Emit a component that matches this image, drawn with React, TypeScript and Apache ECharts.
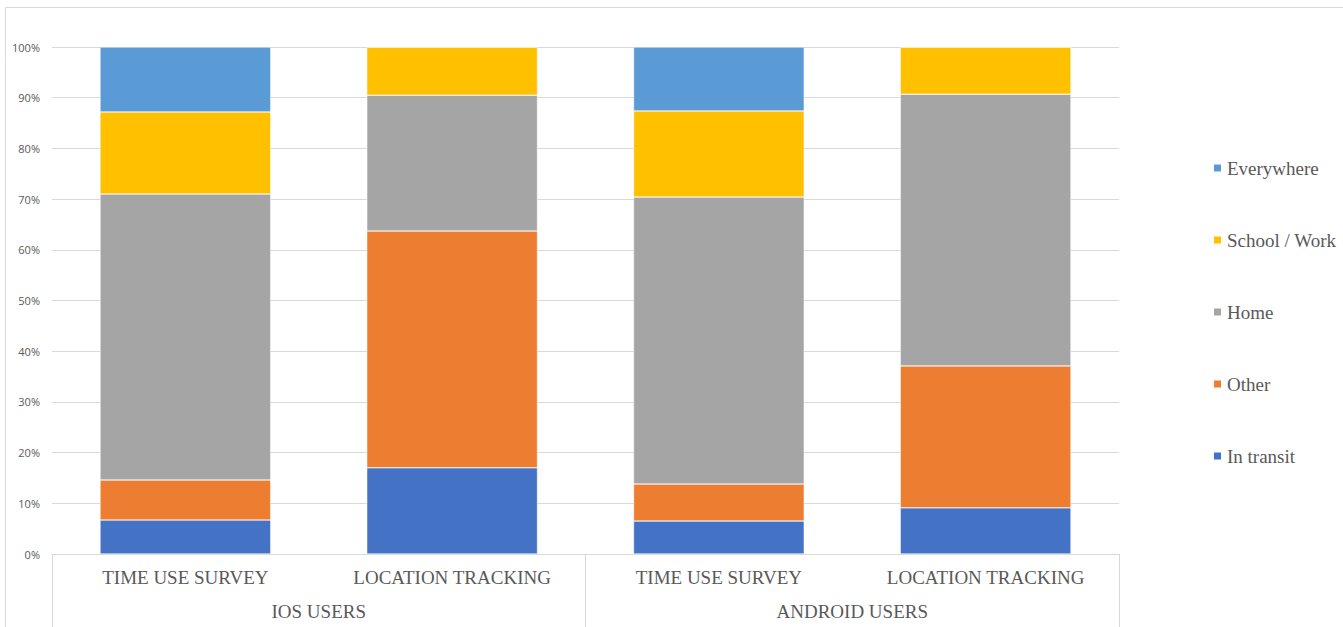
import React, { useEffect, useRef } from "react";
import * as echarts from "echarts";

const categories = ["TIME USE SURVEY", "LOCATION TRACKING", "TIME USE SURVEY", "LOCATION TRACKING"];
const groups = ["IOS USERS", "ANDROID USERS"];
const yTicks = [0, 10, 20, 30, 40, 50, 60, 70, 80, 90, 100];

const inTransit = [6.7, 17.0, 6.5, 9.1];
const other = [7.9, 46.7, 7.3, 28.0];
const home = [56.4, 26.8, 56.6, 53.6];
const schoolWork = [16.2, 9.5, 17.0, 9.3];
const everywhere = [12.8, 0, 12.6, 0];

const seriesDefs = [
  { name: "In transit", data: inTransit, color: "#4472C4" },
  { name: "Other", data: other, color: "#ED7D31" },
  { name: "Home", data: home, color: "#A5A5A5" },
  { name: "School / Work", data: schoolWork, color: "#FFC000" },
  { name: "Everywhere", data: everywhere, color: "#5B9BD5" },
];

const legendOrder = ["Everywhere", "School / Work", "Home", "Other", "In transit"];

export default function App() {
  const ref = useRef<HTMLDivElement>(null);
  useEffect(() => {
    if (!ref.current) return;
    const chart = echarts.init(ref.current, undefined, { renderer: "svg" });
    const serif = "'Liberation Serif', 'DejaVu Serif', serif";
    chart.setOption({
      animation: false,
      backgroundColor: "#ffffff",
      graphic: [
        {
          type: "polyline",
          shape: { points: [[5.5, 640], [5.5, 7.5], [1343, 7.5]] },
          style: { fill: "none", stroke: "#d9d9d9", lineWidth: 1 },
          silent: true,
        },
      ],
      grid: { left: 52, right: 224, top: 47, bottom: 73, containLabel: false },
      legend: {
        orient: "vertical",
        left: 1212,
        top: 158,
        padding: 0,
        itemWidth: 9,
        itemHeight: 9,
        itemGap: 52,
        icon: "rect",
        data: legendOrder,
        textStyle: { fontFamily: serif, fontSize: 19, color: "#595959", lineHeight: 20 },
      },
      xAxis: [
        {
          type: "category",
          data: categories,
          position: "bottom",
          axisLine: { show: true, lineStyle: { color: "#d9d9d9", width: 1 } },
          axisTick: { show: false },
          axisLabel: {
            interval: 0,
            margin: 14,
            fontFamily: serif,
            fontSize: 19,
            color: "#595959",
          },
        },
        {
          type: "category",
          data: groups,
          position: "bottom",
          axisLine: { show: false },
          axisTick: {
            show: true,
            length: 80,
            alignWithLabel: false,
            interval: 0,
            lineStyle: { color: "#d9d9d9", width: 1 },
          },
          axisLabel: {
            interval: 0,
            margin: 48,
            fontFamily: serif,
            fontSize: 19,
            color: "#595959",
          },
        },
      ],
      yAxis: {
        type: "value",
        min: 0,
        max: 100,
        interval: 10,
        axisLine: { show: false },
        axisTick: { show: false },
        splitLine: { lineStyle: { color: "#d9d9d9", width: 1 } },
        axisLabel: {
          margin: 12,
          fontFamily: "'Open Sans', 'Liberation Sans', sans-serif",
          fontSize: 11,
          color: "#595959",
          formatter: (v: number) => (yTicks.includes(v) ? v + "%" : ""),
        },
      },
      series: seriesDefs.map((s) => ({
        name: s.name,
        type: "bar",
        stack: "total",
        xAxisIndex: 0,
        barWidth: "64%",
        data: s.data,
        itemStyle: { color: s.color, borderColor: "#ffffff", borderWidth: 0.5 },
      })),
    });
    return () => chart.dispose();
  }, []);
  return (
    <div
      ref={ref}
      style={{ position: "fixed", left: 0, top: 0, width: 1343, height: 627 }}
    />
  );
}
